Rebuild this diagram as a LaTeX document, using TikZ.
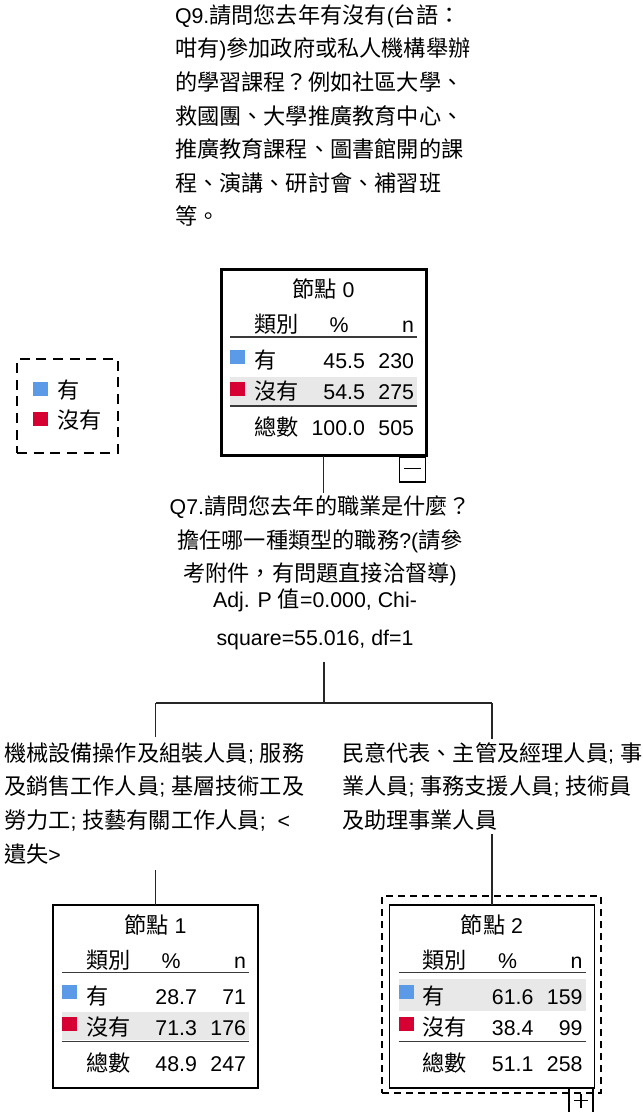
\documentclass[tikz,border=0pt]{standalone}
\usepackage{fontspec}
\setmainfont{Liberation Sans}
\newfontfamily\cjk[Scale=1.04]{Noto Sans CJK TC}
\newcommand{\zh}[1]{{\cjk #1}}
\definecolor{catblue}{HTML}{5A9AE6}
\definecolor{catred}{HTML}{D60032}
\definecolor{rowgray}{HTML}{E8E8E8}
\definecolor{rulegray}{HTML}{3A3A3A}
\tikzset{
	every node/.style={inner sep=0pt,outer sep=0pt},
	txt/.style={font=\fontsize{16}{25.2}\selectfont},
	statbox/.style={draw,line width=1.1pt,minimum width=153.75pt,minimum height=137pt},
	rootbox/.style={statbox,line width=2.25pt,minimum height=139.5pt},
	togglebox/.style={draw,line width=1.1pt,minimum width=19.5pt,minimum height=18.75pt},
	keybox/.style={draw,line width=2.2pt,dash pattern=on 7.5pt off 5pt},
	focusbox/.style={draw,line width=2.2pt,dash pattern=on 5.5pt off 3.5pt},
	tabrule/.style={draw=rulegray,line width=1.1pt},
	branch/.style={draw=black!85,line width=1pt},
}
\begin{document}
\begin{tikzpicture}[x=0.75pt,y=-0.75pt]
	\useasboundingbox (0,0) rectangle (642,1112);
	% inhalt eines knotens: name, nummer, %/n der beiden zeilen, summe, markierte zeile
	\def\stattable#1#2#3#4#5#6#7#8#9{%
		\begin{scope}[shift={(#1.north west)},txt]
			\ifnum#9=1 \fill[rowgray] (9,74) rectangle (196,106);
			\else \fill[rowgray] (9,107) rectangle (196,135); \fi
			\node[anchor=base] (#1-title) at (102.5,28) {\zh{節點} #2};
			\node[anchor=base west] (#1-cat) at (33,63) {\zh{類別}};
			\node[anchor=base] (#1-pct) at (118,63) {\%};
			\node[anchor=base east] (#1-n) at (193,63) {n};
			\draw[tabrule] (9,67.5) -- (196,67.5);
			\fill[catblue] (9,80) rectangle (24,94);
			\node[anchor=base west] (#1-a) at (33,99) {\zh{有}};
			\node[anchor=base east] (#1-ap) at (144,99) {#3};
			\node[anchor=base east] (#1-an) at (193,99) {#4};
			\fill[catred] (9,112) rectangle (24,126);
			\node[anchor=base west] (#1-b) at (33,130) {\zh{沒有}};
			\node[anchor=base east] (#1-bp) at (144,130) {#5};
			\node[anchor=base east] (#1-bn) at (193,130) {#6};
			\draw[tabrule] (9,136.5) -- (196,136.5);
			\node[anchor=base west] (#1-s) at (33,166) {\zh{總數}};
			\node[anchor=base east] (#1-sp) at (144,166) {#7};
			\node[anchor=base east] (#1-sn) at (193,166) {#8};
		\end{scope}}

	\node[txt,align=left,anchor=north west] (q9) at (175,4.5) {Q9.\zh{請問您去年有沒有}(\zh{台語：}\\
		\zh{咁有})\zh{參加政府或私人機構舉辦}\\
		\zh{的學習課程？例如社區大學、}\\
		\zh{救國團、大學推廣教育中心、}\\
		\zh{推廣教育課程、圖書館開的課}\\
		\zh{程、演講、研討會、補習班}\\
		\zh{等。}};

	% legende
	\node[keybox,minimum width=75.75pt,minimum height=70.5pt] (key) at (67.5,406) {};
	\fill[catblue] (33,382) rectangle (48,396);
	\node[txt,anchor=base west] (key-a) at (57,398) {\zh{有}};
	\fill[catred] (33,412) rectangle (48,426);
	\node[txt,anchor=base west] (key-b) at (57,428) {\zh{沒有}};

	% knoten
	\node[rootbox] (n0) at (323.5,362.5) {};
	\node[togglebox] (n0-tog) at (412.5,469.5) {};
	\draw[line width=1.1pt] (n0-tog.center) ++(-8.5,-1) -- ++(17,0);
	\stattable{n0}{0}{45.5}{230}{54.5}{275}{100.0}{505}{2}

	\node[txt,align=center,anchor=north,inner ysep=2.25pt] (q7) at (320,493) {Q7.\zh{請問您去年的職業是什麼？}\\
		\zh{擔任哪一種類型的職務}?(\zh{請參}\\
		\zh{考附件，有問題直接洽督導})};
	\node[align=center,anchor=north,inner ysep=8.6pt,font=\fontsize{16}{29}\selectfont] (q7stat) at (315,577) {Adj. P \zh{值}=0.000, Chi-\\
		square=55.016, df=1};

	\node[txt,align=left,anchor=north west,inner ysep=4.5pt] (lblL) at (4,736.5) {\zh{機械設備操作及組裝人員}; \zh{服務}\\
		\zh{及銷售工作人員}; \zh{基層技術工及}\\
		\zh{勞力工}; \zh{技藝有關工作人員}; \ <\\
		\zh{遺失}>};
	\node[txt,align=left,anchor=north west,inner ysep=3pt] (lblR) at (342,738.5) {\zh{民意代表、主管及經理人員}; \zh{事}\\
		\zh{業人員}; \zh{事務支援人員}; \zh{技術員}\\
		\zh{及助理事業人員}};

	\node[statbox] (n1) at (155.5,996.5) {};
	\stattable{n1}{1}{28.7}{71}{71.3}{176}{48.9}{247}{2}
	\node[focusbox,minimum width=164.25pt,minimum height=147.75pt] (n2-focus) at (491.5,994.5) {};
	\node[statbox] (n2) at (492,996.5) {};
	\stattable{n2}{2}{61.6}{159}{38.4}{99}{51.1}{258}{1}
	\node[togglebox,minimum width=18pt] (n2-tog) at (581,1100.5) {};
	\draw[line width=1.1pt] (n2-tog.center) ++(-7,0) -- ++(14,0);
	\draw[line width=1.1pt] (n2-tog.center) ++(0,-7) -- ++(0,14);

	% verbindungen
	\coordinate (split) at (324,703);
	\coordinate (splitL) at (n1.north |- split);
	\coordinate (splitR) at (n2.north |- split);
	\draw[branch] (n0.south) -- (n0.south |- q7.north);
	\draw[branch] (split |- q7stat.south) -- (split);
	\draw[branch] (splitL) -- (splitR);
	\draw[branch] (splitL) -- (splitL |- lblL.north);
	\draw[branch] (splitR) -- (splitR |- lblR.north);
	\draw[branch] (n1.north |- lblL.south) -- (n1.north);
	\draw[branch] (n2.north |- lblR.south) -- (n2.north);
\end{tikzpicture}
\end{document}
